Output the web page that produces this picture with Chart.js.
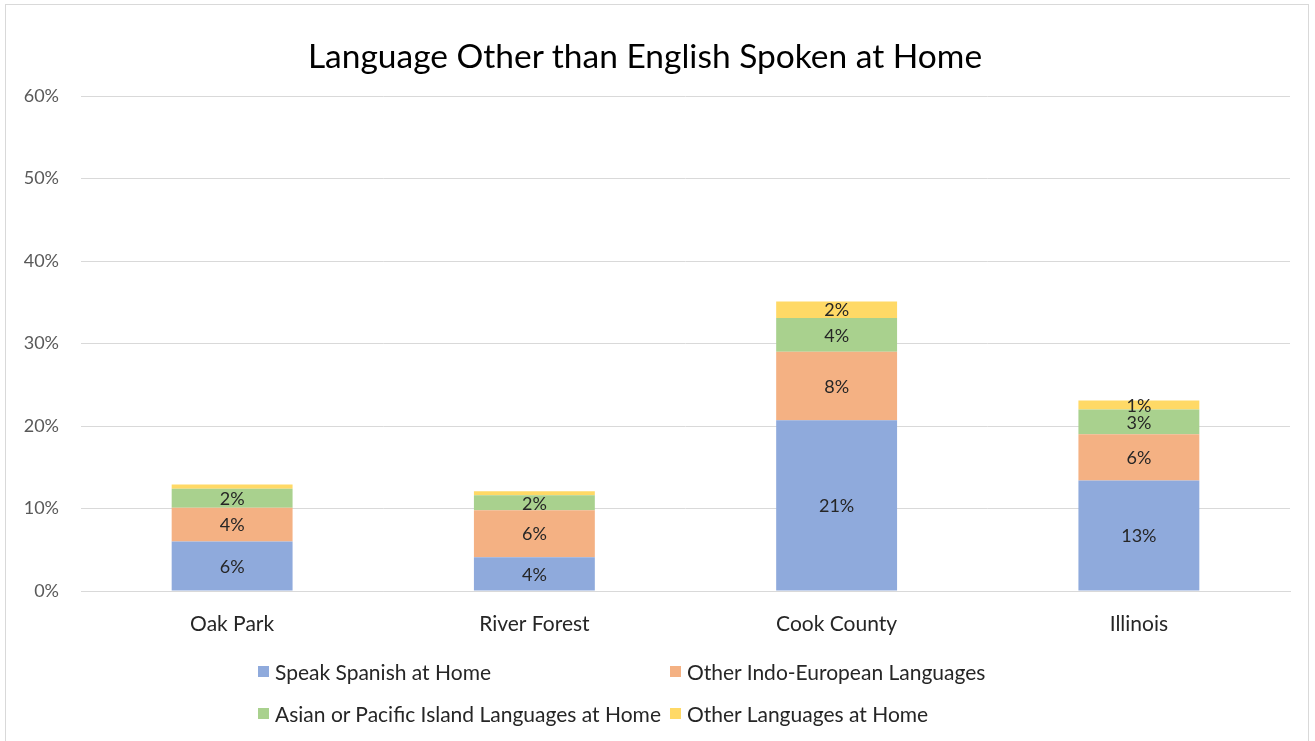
<!DOCTYPE html>
<html>
<head>
<meta charset="utf-8">
<script src="https://cdn.jsdelivr.net/npm/chart.js@4.4.0/dist/chart.umd.min.js"></script>
<style>
  html, body { margin: 0; padding: 0; background: #fff; }
  #wrap { position: relative; width: 1315px; height: 741px; overflow: hidden; }
  #frame { position: absolute; left: 5px; top: 4px; width: 1304px; height: 760px; border: 1px solid #d9d9d9; box-sizing: border-box; }
  #title { position: absolute; left: 0; width: 1290px; top: 35px; text-align: center; font-family: Lato, sans-serif; font-size: 33.5px; color: #000; }
  #legend { position: absolute; left: 258px; top: 658px; display: grid; grid-template-columns: 412px 330px; row-gap: 16px; font-family: Lato, sans-serif; font-size: 21px; color: #262626; }
  #legend div { display: flex; align-items: center; height: 26px; white-space: nowrap; }
  #legend span.box { display: inline-block; width: 11px; height: 11px; margin-right: 6px; }
  canvas { position: absolute; left: 0; top: 0; }
</style>
</head>
<body>
<div id="wrap">
  <div id="frame"></div>
  <canvas id="langchart" width="1315" height="741"></canvas>
  <div id="title">Language Other than English Spoken at Home</div>
  <div id="legend"></div>
</div>
<script>
var categories = ['Oak Park', 'River Forest', 'Cook County', 'Illinois'];
var spanish = [6.0, 4.1, 20.7, 13.4];
var indoEuropean = [4.1, 5.7, 8.3, 5.6];
var asianPacific = [2.3, 1.8, 4.1, 3.0];
var otherLangs = [0.5, 0.5, 2.0, 1.1];
var seriesNames = ['Speak Spanish at Home', 'Other Indo-European Languages', 'Asian or Pacific Island Languages at Home', 'Other Languages at Home'];
var seriesColors = ['#8faadc', '#f4b183', '#a9d18e', '#ffd966'];
var yTicks = [0, 10, 20, 30, 40, 50, 60];

var seriesData = [spanish, indoEuropean, asianPacific, otherLangs];

// segment labels, centred like Excel's; tiny slivers are left unlabelled
const segmentLabels = {
    id: 'segmentLabels',
    afterDatasetsDraw(chart) {
        const ctx = chart.ctx;
        ctx.save();
        ctx.font = '18px Lato, sans-serif';
        ctx.fillStyle = '#262626';
        ctx.textAlign = 'center';
        ctx.textBaseline = 'middle';
        chart.data.datasets.forEach(function(ds, i) {
            chart.getDatasetMeta(i).data.forEach(function(bar, j) {
                var v = ds.data[j];
                if (v < 0.8) return;
                ctx.fillText(Math.round(v) + '%', bar.x, (bar.y + bar.base) / 2 + 1);
            });
        });
        ctx.restore();
    }
};

const dt = {
    labels: categories,
    datasets: seriesData.map(function(d, i) {
        return {
            label: seriesNames[i],
            data: d,
            backgroundColor: seriesColors[i],
            borderWidth: 0,
            barPercentage: 0.4,
            categoryPercentage: 1.0
        };
    })
};

const config_lang = {
    type: 'bar',
    data: dt,
    options: {
        responsive: false,
        animation: false,
        layout: { padding: { left: 6, right: 25, top: 96, bottom: 90 } },
        plugins: {
            legend: { display: false },
            title: { display: false },
            tooltip: { enabled: false }
        },
        scales: {
            x: {
                stacked: true,
                grid: { display: false },
                border: { color: '#d9d9d9', width: 1 },
                ticks: { color: '#262626', font: { family: 'Lato, sans-serif', size: 21 }, padding: 13 },
                afterFit: function(s) { s.height = 60; }
            },
            y: {
                stacked: true,
                min: 0,
                max: 60,
                afterBuildTicks: function(s) { s.ticks = yTicks.map(function(v) { return { value: v }; }); },
                grid: { color: '#d9d9d9', drawTicks: false },
                border: { display: false },
                ticks: {
                    color: '#595959',
                    font: { family: 'Lato, sans-serif', size: 18 },
                    padding: 22,
                    callback: function(v) { return v + '%'; }
                },
                afterFit: function(s) { s.width = 75; }
            }
        }
    },
    plugins: [segmentLabels]
};

const langchart = new Chart(document.getElementById('langchart'), config_lang);

var legendEl = document.getElementById('legend');
seriesNames.forEach(function(name, i) {
    var item = document.createElement('div');
    item.innerHTML = '<span class="box" style="background:' + seriesColors[i] + '"></span>' + name;
    legendEl.appendChild(item);
});
</script>
</body>
</html>
